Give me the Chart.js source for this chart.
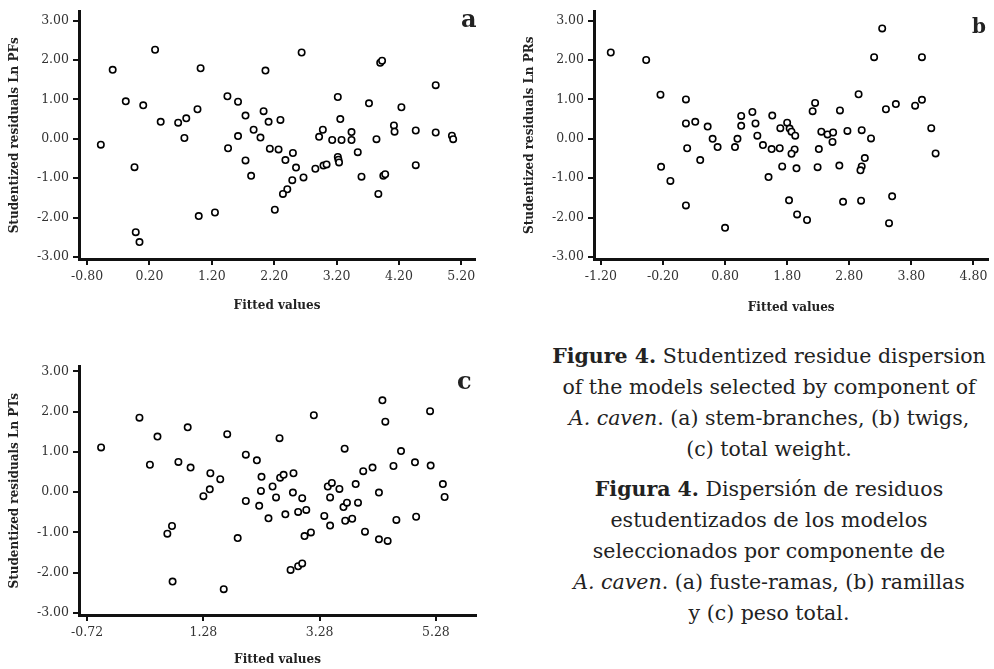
<!DOCTYPE html>
<html>
<head>
<meta charset="utf-8">
<script src="https://cdn.jsdelivr.net/npm/chart.js@4.4.1/dist/chart.umd.min.js"></script>
<style>
  body { margin: 0; background: #fff; width: 994px; height: 669px; overflow: hidden; position: relative; }
  canvas { position: absolute; }
  .tag { position: absolute; font-family: "DejaVu Serif", serif; font-weight: bold; line-height: 1; color: #222; }
  .caption { position: absolute; left: 545px; width: 448px; text-align: center; font-family: "DejaVu Serif", serif;
    font-size: 20.5px; line-height: 31px; color: #222; white-space: nowrap; }
</style>
</head>
<body>
<canvas id="chartA" width="490" height="320" style="left:0;top:0"></canvas>
<canvas id="chartB" width="479" height="320" style="left:515px;top:0"></canvas>
<canvas id="chartC" width="490" height="314" style="left:0;top:355px"></canvas>

<div class="tag" style="left:461px;top:7px;font-size:24px">a</div>
<div class="tag" style="left:972px;top:16px;font-size:20px">b</div>
<div class="tag" style="left:457px;top:369px;font-size:24px">c</div>

<div class="caption" style="top:341px">
  <b>Figure 4.</b> Studentized residue dispersion<br>
  of the models selected by component of<br>
  <i>A. caven</i>. (a) stem-branches, (b) twigs,<br>
  (c) total weight.
</div>
<div class="caption" style="top:474px">
  <b>Figura 4.</b> Dispersión de residuos<br>
  estudentizados de los modelos<br>
  seleccionados por componente de<br>
  <i>A. caven</i>. (a) fuste-ramas, (b) ramillas<br>
  y (c) peso total.
</div>

<script>
// panel a - stem-branches (Ln PFs)
const fittedA = [-0.58, -0.39, -0.18, 0.10, 0.29, 0.38, 0.66, 0.79, 0.76, 0.97, 1.02, 1.45, 1.62, 1.74, 1.62, 1.46,
  1.74, -0.04, -0.02, 0.04, 0.99, 1.25, 1.83, 2.06, 2.64, 3.90, 3.93, 4.79, 3.22, 3.72, 4.24, 2.03, 2.11, 2.30,
  3.26, 1.87, 1.98, 2.98, 2.92, 3.13, 3.28, 3.44, 3.44, 3.84, 4.12, 4.13, 4.47, 4.79, 5.05, 5.07, 2.13, 2.27,
  2.50, 3.54, 2.38, 3.22, 3.23, 3.24, 2.55, 2.49, 2.67, 2.41, 2.34, 2.21, 2.86, 2.99, 3.04, 3.60, 3.95, 3.98,
  3.87, 4.47];
const residA = [-0.15, 1.75, 0.95, 0.85, 2.26, 0.43, 0.41, 0.52, 0.02, 0.75, 1.79, 1.08, 0.94, 0.59, 0.07, -0.24,
  -0.55, -0.72, -2.37, -2.62, -1.96, -1.87, -0.94, 1.73, 2.19, 1.93, 1.98, 1.36, 1.06, 0.90, 0.80, 0.70, 0.43, 0.48,
  0.50, 0.23, 0.03, 0.23, 0.05, -0.03, -0.03, 0.17, -0.03, -0.01, 0.34, 0.18, 0.21, 0.16, 0.08, -0.01, -0.25, -0.27,
  -0.36, -0.34, -0.54, -0.46, -0.53, -0.60, -0.73, -1.05, -0.98, -1.28, -1.40, -1.80, -0.76, -0.68, -0.65, -0.96, -0.94, -0.90,
  -1.40, -0.67];
const xTicksA = [-0.80, 0.20, 1.20, 2.20, 3.20, 4.20, 5.20];

// panel b - twigs (Ln PRs)
const fittedB = [-1.04, -0.47, -0.24, 0.17, 0.17, 0.32, 0.52, 0.60, 0.68, 0.19, 0.40, 0.96, 1.00, 1.06, 1.06, -0.23,
  -0.08, 0.17, 0.80, 3.33, 3.20, 3.97, 2.95, 2.25, 2.21, 2.65, 3.39, 3.55, 3.86, 3.97, 4.12, 4.19, 1.24, 1.29,
  1.56, 1.32, 1.41, 1.55, 1.68, 1.69, 1.80, 1.84, 1.87, 1.93, 1.92, 1.87, 2.35, 2.45, 2.54, 2.53, 2.31, 2.77,
  3.00, 3.15, 3.05, 1.50, 1.72, 1.95, 2.29, 2.64, 3.00, 2.98, 1.83, 2.70, 2.99, 3.49, 1.96, 2.12, 3.44];
const residB = [2.19, 2.00, 1.12, 1.00, 0.39, 0.43, 0.31, 0.00, -0.21, -0.24, -0.54, -0.21, 0.00, 0.58, 0.33, -0.71,
  -1.07, -1.69, -2.26, 2.80, 2.07, 2.07, 1.13, 0.91, 0.70, 0.72, 0.75, 0.88, 0.84, 0.99, 0.27, -0.37, 0.68, 0.39,
  0.59, 0.08, -0.16, -0.26, -0.24, 0.27, 0.41, 0.26, 0.18, 0.08, -0.27, -0.38, 0.18, 0.11, 0.16, -0.08, -0.26, 0.20,
  0.22, 0.01, -0.49, -0.97, -0.70, -0.75, -0.72, -0.68, -0.70, -0.80, -1.56, -1.60, -1.57, -1.46, -1.92, -2.06, -2.14];
const xTicksB = [-1.20, -0.20, 0.80, 1.80, 2.80, 3.80, 4.80];

// panel c - total weight (Ln PTs)
const fittedC = [-0.48, 0.18, 0.49, 0.36, 0.85, 1.01, 1.06, 1.40, 1.39, 1.57, 1.28, 1.69, 2.01, 2.01, 0.66, 0.74,
  0.75, 1.63, 1.87, 2.20, 2.59, 3.18, 4.36, 4.41, 5.18, 3.71, 4.68, 2.28, 2.47, 2.60, 2.66, 2.83, 2.27, 2.53,
  2.82, 2.98, 3.42, 3.49, 3.62, 3.46, 3.90, 4.03, 4.19, 4.55, 4.92, 5.19, 4.30, 5.40, 5.43, 2.24, 2.40, 2.69,
  2.91, 3.05, 3.36, 3.46, 3.69, 3.75, 3.94, 3.72, 3.84, 4.06, 4.30, 4.45, 4.60, 4.94, 3.02, 3.13, 2.78, 2.91, 2.98];
const residC = [1.11, 1.85, 1.38, 0.68, 0.75, 1.61, 0.61, 0.47, 0.07, 0.32, -0.10, 1.44, 0.93, -0.22, -1.03, -0.84,
  -2.22, -2.41, -1.14, 0.79, 1.34, 1.91, 2.28, 1.75, 2.01, 1.08, 1.02, 0.38, 0.14, 0.36, 0.43, 0.47, 0.03, -0.13,
  -0.01, -0.15, 0.14, 0.23, 0.08, -0.13, 0.20, 0.52, 0.61, 0.65, 0.74, 0.66, -0.01, 0.20, -0.12, -0.34, -0.65, -0.55,
  -0.49, -0.44, -0.59, -0.83, -0.37, -0.26, -0.26, -0.71, -0.66, -0.98, -1.17, -1.21, -0.69, -0.61, -1.09, -1.00, -1.93, -1.84, -1.77];
const xTicksC = [-0.72, 1.28, 3.28, 5.28];

const yTicks = [-3, -2, -1, 0, 1, 2, 3];

const serif = "DejaVu Serif";

function toPoints(xs, ys) {
  const pts = [];
  for (let i = 0; i < xs.length; i++) {
    pts.push({ x: xs[i], y: ys[i] });
  }
  return pts;
}

function makeChart(id, xs, ys, opts) {
  const ctx = document.getElementById(id);
  new Chart(ctx, {
    type: "scatter",
    data: {
      datasets: [{
        data: toPoints(xs, ys),
        pointStyle: "circle",
        pointRadius: 3.2,
        pointBorderWidth: 1.6,
        borderColor: "#000",
        backgroundColor: "#fff",
        clip: false,
      }],
    },
    options: {
      responsive: false,
      animation: false,
      layout: { padding: { top: 9, right: opts.padRight, left: 0, bottom: 0 } },
      plugins: { legend: { display: false }, tooltip: { enabled: false } },
      scales: {
        x: {
          type: "linear",
          min: opts.xMin,
          max: opts.xMax,
          afterBuildTicks: (axis) => { axis.ticks = opts.xTicks.map((v) => ({ value: v })); },
          afterFit: (axis) => { axis.height = opts.xHeight; },
          ticks: {
            callback: (v) => v.toFixed(2),
            font: { family: serif, size: 12.5 },
            color: "#333",
            padding: 4,
            maxRotation: 0,
            autoSkip: false,
          },
          grid: { drawOnChartArea: false, drawTicks: true, tickLength: 6, color: "#111", lineWidth: 2 },
          border: { display: true, color: "#111", width: 3 },
          title: {
            display: true,
            text: "Fitted values",
            font: { family: serif, size: 12, weight: "bold" },
            color: "#222",
            padding: { top: 0, bottom: opts.xTitlePad },
          },
        },
        y: {
          type: "linear",
          min: opts.yMin,
          max: opts.yMax,
          afterBuildTicks: (axis) => { axis.ticks = yTicks.map((v) => ({ value: v })); },
          afterFit: (axis) => { axis.width = 79; },
          ticks: {
            callback: (v) => v.toFixed(2),
            font: { family: serif, size: 12.5 },
            color: "#333",
            padding: 4,
          },
          grid: { drawOnChartArea: false, drawTicks: true, tickLength: 6, color: "#111", lineWidth: 2 },
          border: { display: true, color: "#111", width: 3 },
          title: {
            display: true,
            text: opts.yTitle,
            font: { family: serif, size: 12, weight: "bold" },
            color: "#222",
            padding: { top: 8, bottom: 0 },
          },
        },
      },
    },
  });
}

makeChart("chartA", fittedA, residA, {
  xMin: -0.93, xMax: 5.42, yMin: -3.05, yMax: 3.23, xTicks: xTicksA,
  padRight: 15, xHeight: 61, xTitlePad: 7, yTitle: "Studentized residuals Ln PFs",
});
makeChart("chartB", fittedB, residB, {
  xMin: -1.31, xMax: 5.04, yMin: -3.05, yMax: 3.23, xTicks: xTicksB,
  padRight: 3, xHeight: 61, xTitlePad: 5, yTitle: "Studentized residuals Ln PRs",
});
makeChart("chartC", fittedC, residC, {
  xMin: -0.86, xMax: 5.97, yMin: -3.05, yMax: 3.12, xTicks: xTicksC,
  padRight: 14, xHeight: 54, xTitlePad: 2, yTitle: "Studentized residuals Ln PTs",
});
</script>
</body>
</html>
